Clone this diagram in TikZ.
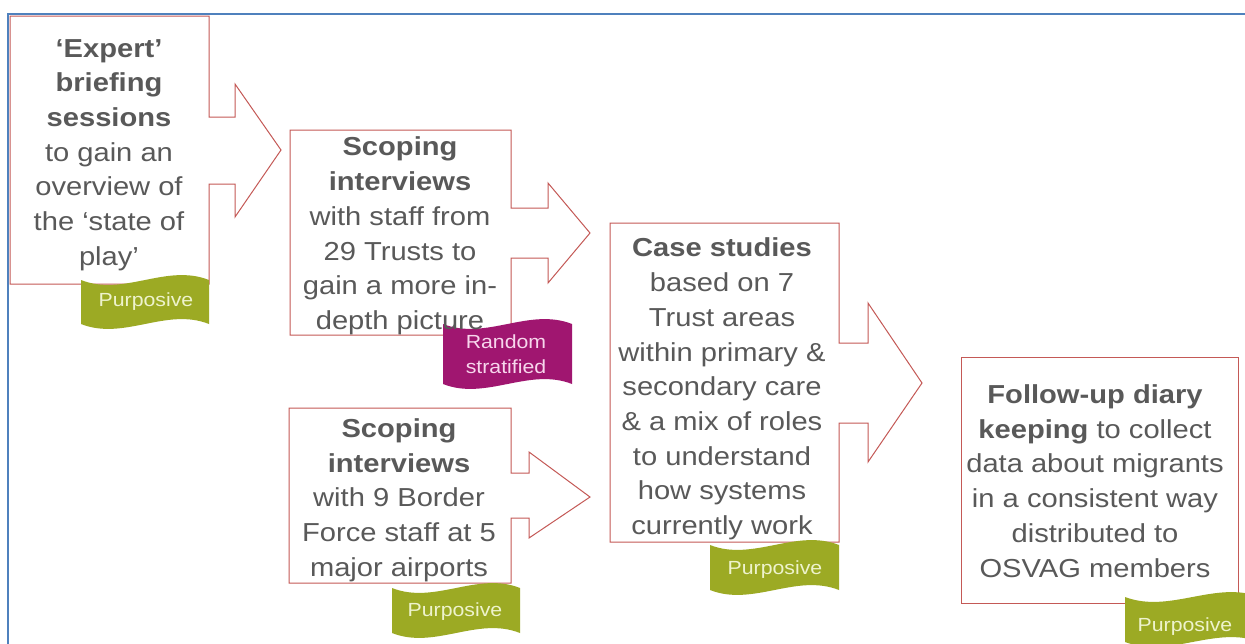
\documentclass[tikz,border=0pt]{standalone}
\usepackage{fontspec}
\setmainfont{Liberation Sans}[FakeStretch=1.12]
\definecolor{boxred}{RGB}{196,89,86}
\definecolor{textgray}{RGB}{89,89,89}
\definecolor{blueframe}{RGB}{79,129,189}
\definecolor{olive}{RGB}{156,170,36}
\definecolor{olivetext}{RGB}{238,243,205}
\definecolor{magban}{RGB}{160,22,112}
\definecolor{magtext}{RGB}{247,214,236}
\tikzset{
  boxline/.style={draw=boxred, line width=1pt, fill=white, line join=miter},
  maintext/.style={align=center, text=textgray, font=\fontsize{26}{34.7}\selectfont, inner sep=0pt},
  bantext/.style={align=center, font=\fontsize{19}{25}\selectfont, inner sep=0pt},
}
\newcommand\bannershape[5]{\fill[#5] (#1,#3) .. controls ({#1+(#2-#1)/3},{#3+17}) and ({#1+2*(#2-#1)/3},{#3-17}) .. (#2,#3) -- (#2,{#3+#4}) .. controls ({#1+2*(#2-#1)/3},{#3+#4-17}) and ({#1+(#2-#1)/3},{#3+#4+17}) .. (#1,{#3+#4}) -- cycle;}
\begin{document}
\begin{tikzpicture}[x=1pt,y=-1pt]
\useasboundingbox (0,0) rectangle (1245,643);
\fill[white] (0,0) rectangle (1245,643);
% frame
\draw[blueframe, line width=2.3pt] (8.3,660) -- (8.3,14) -- (1260,14);
% callout shapes
\draw[boxline] (10,16) -- (209,16) -- (209,117) -- (235,117) -- (235,84) -- (281,150) -- (235,217) -- (235,184) -- (209,184) -- (209,284) -- (10,284) -- cycle;
\draw[boxline] (290,130) -- (511,130) -- (511,208) -- (548,208) -- (548,183) -- (590,233) -- (548,283) -- (548,258) -- (511,258) -- (511,335) -- (290,335) -- cycle;
\draw[boxline] (289,408) -- (511,408) -- (511,473) -- (529,473) -- (529,452) -- (590,497) -- (529,538) -- (529,518) -- (511,518) -- (511,583) -- (289,583) -- cycle;
\draw[boxline] (610,223) -- (839,223) -- (839,343) -- (868,343) -- (868,303) -- (922,383) -- (868,462) -- (868,423) -- (839,423) -- (839,542) -- (610,542) -- cycle;
\draw[boxline] (961,357) rectangle (1238,603);
% banners
\bannershape{81}{209}{280}{44}{olive}
\bannershape{443}{572}{324}{60}{magban}
\bannershape{392}{520}{588}{45}{olive}
\bannershape{710}{839}{545}{45}{olive}
\bannershape{1125}{1260}{597}{45}{olive}
% texts
\node[maintext] (t1) at (109,155) {\textbf{‘Expert’}\\ \textbf{briefing}\\ \textbf{sessions}\\ to gain an\\ overview of\\ the ‘state of\\ play’};
\node[maintext] (t2) at (400,236) {\textbf{Scoping}\\ \textbf{interviews}\\ with staff from\\ 29 Trusts to\\ gain a more in-\\ depth picture};
\node[maintext] (t3) at (399,500) {\textbf{Scoping}\\ \textbf{interviews}\\ with 9 Border\\ Force staff at 5\\ major airports};
\node[maintext] (t4) at (722,389) {\textbf{Case studies}\\ based on 7\\ Trust areas\\ within primary \&\\ secondary care\\ \& a mix of roles\\ to understand\\ how systems\\ currently work};
\node[maintext] (t5) at (1095,481) {\textbf{Follow-up diary}\\ \textbf{keeping} to collect\\ data about migrants\\ in a consistent way\\ distributed to\\ OSVAG members};
% banner texts
\node[bantext, text=olivetext] (b1) at (146,302) {Purposive};
\node[bantext, text=magtext] (b2) at (506,354) {Random\\ stratified};
\node[bantext, text=olivetext] (b3) at (455,612) {Purposive};
\node[bantext, text=olivetext] (b4) at (775,570) {Purposive};
\node[bantext, text=olivetext] (b5) at (1185,627) {Purposive};
\end{tikzpicture}
\end{document}
